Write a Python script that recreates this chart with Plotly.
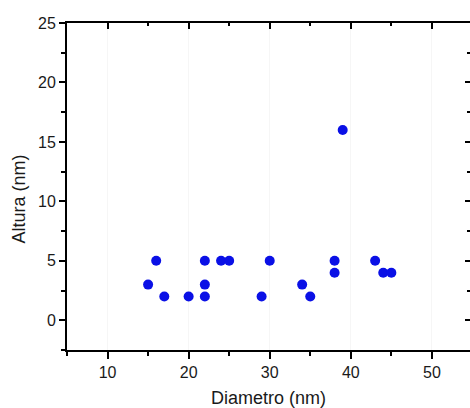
import plotly.graph_objects as go

diametro = [15, 16, 17, 20, 22, 22, 22, 24, 25, 29, 30, 34, 35, 38, 38, 39, 43, 44, 45]
altura = [3, 5, 2, 2, 5, 3, 2, 5, 5, 2, 5, 3, 2, 5, 4, 16, 5, 4, 4]

x_range = [5, 54.7]
y_range = [-2.5, 25]
x_ticks = [10, 20, 30, 40, 50]
y_ticks = [0, 5, 10, 15, 20, 25]

font_family = "Liberation Sans, Arial, sans-serif"
txt_color = "#1a1a1a"

fig = go.Figure()
fig.add_trace(go.Scatter(
    x=diametro, y=altura, mode="markers",
    marker=dict(size=10, color="#0a10e6", line=dict(width=0)),
    showlegend=False, hoverinfo="x+y",
))
# invisible trace for mirror axes
fig.add_trace(go.Scatter(x=[None], y=[None], xaxis="x2", yaxis="y2", showlegend=False))

common = dict(showline=True, linecolor="black", linewidth=2, zeroline=False,
              tickfont=dict(family=font_family, size=16, color=txt_color))

fig.update_layout(
    width=470, height=408,
    margin=dict(l=67, r=0, t=23, b=58),
    paper_bgcolor="white", plot_bgcolor="white",
    font=dict(family=font_family, color=txt_color),
    xaxis=dict(range=x_range, tickvals=x_ticks, ticks="outside", ticklen=7, tickwidth=2,
               tickcolor="black", showgrid=True, gridcolor="rgba(0,0,0,0.035)",
               minor=dict(dtick=5, tick0=0, ticks="outside", ticklen=4, tickwidth=2,
                          tickcolor="black", showgrid=False),
               **common),
    yaxis=dict(range=y_range, tickvals=y_ticks, ticks="outside", ticklen=6, tickwidth=2,
               tickcolor="black", showgrid=False,
               minor=dict(dtick=2.5, tick0=0, ticks="outside", ticklen=4, tickwidth=2,
                          tickcolor="black"),
               **common),
    xaxis2=dict(range=x_range, overlaying="x", side="top", anchor="y",
                tickvals=x_ticks, ticks="inside", ticklen=6, tickwidth=2, tickcolor="black",
                showticklabels=False, showgrid=False, zeroline=False,
                showline=True, linecolor="black", linewidth=2,
                minor=dict(dtick=5, tick0=0, ticks="inside", ticklen=3, tickwidth=2,
                           tickcolor="black")),
    yaxis2=dict(range=y_range, overlaying="y", side="right", anchor="x",
                tickvals=y_ticks, ticks="inside", ticklen=5, tickwidth=2, tickcolor="black",
                showticklabels=False, showgrid=False, zeroline=False, showline=False,
                minor=dict(dtick=2.5, tick0=0, ticks="inside", ticklen=3, tickwidth=2,
                           tickcolor="black")),
    annotations=[
        dict(text="Diametro (nm)", xref="paper", yref="paper", x=0.5, y=0,
             xanchor="center", yanchor="middle", yshift=-48, showarrow=False,
             font=dict(family=font_family, size=18, color=txt_color)),
        dict(text="Altura (nm)", xref="paper", yref="y", x=0, y=10.2,
             xanchor="center", yanchor="middle", xshift=-48.5, textangle=-90,
             showarrow=False, font=dict(family=font_family, size=18, color=txt_color)),
    ],
)

fig.write_html("out.html", config={"displayModeBar": False},
               post_script="document.body.style.margin='0';document.body.style.overflow='hidden';")
